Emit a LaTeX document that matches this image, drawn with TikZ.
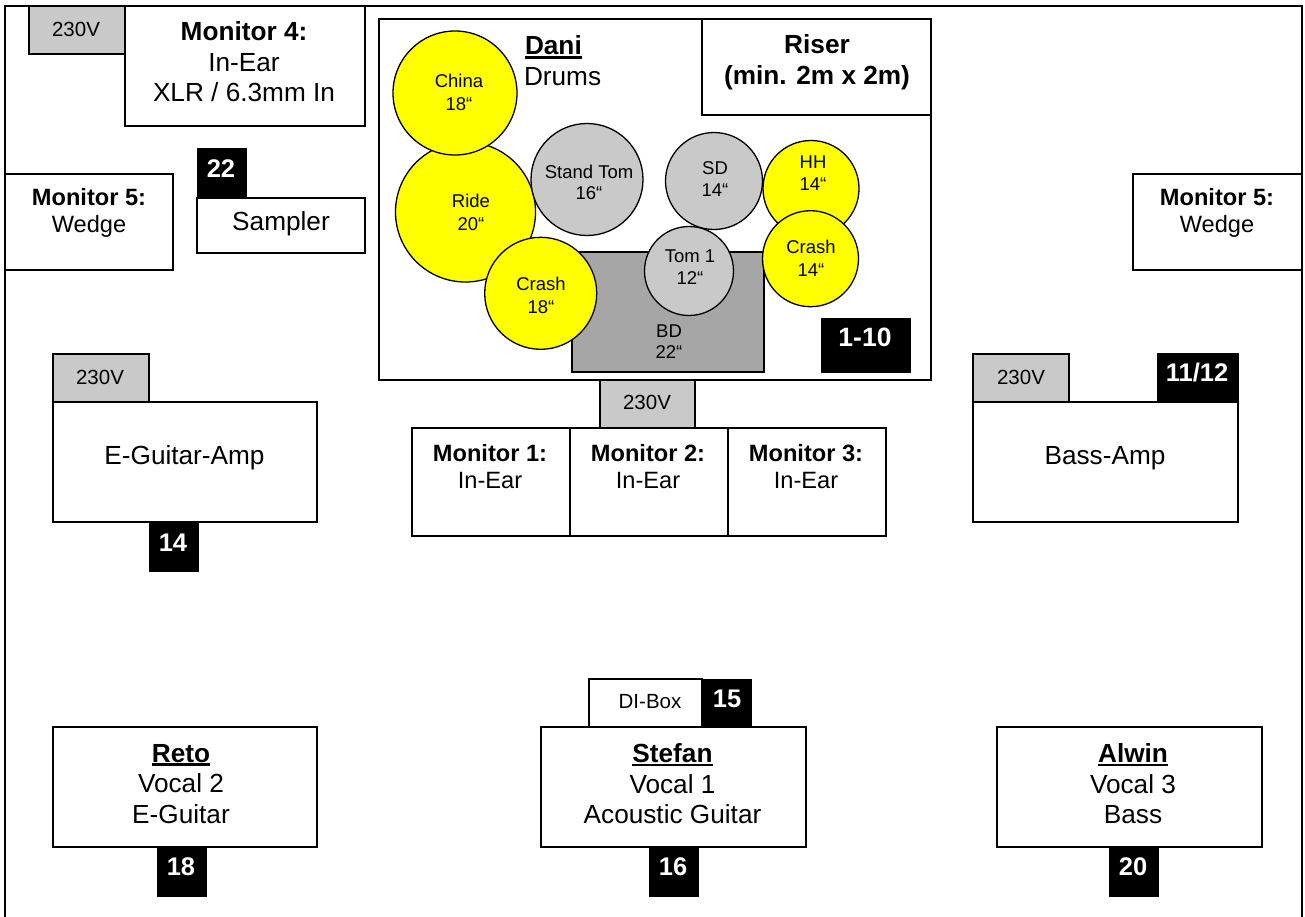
\documentclass[tikz,border=0pt]{standalone}
\usepackage{fontspec}
\setmainfont{Liberation Sans}
\tikzset{
  x=1pt,y=-1pt,
  bxs/.style={draw=black,line width=1.3pt,fill=white,inner sep=0pt,outer sep=0pt},
  greybox/.style={bxs,fill=boxgrey},
  blackbox/.style={draw=black,fill=black,line width=0.6pt,inner sep=0pt,outer sep=0pt},
  drumc/.style={circle,draw=black,line width=1.3pt,fill=cymbal,inner sep=0pt,outer sep=0pt},
  drumg/.style={drumc,fill=boxgrey},
  txt/.style={align=center,inner sep=0pt,outer sep=0pt},
}
\definecolor{boxgrey}{HTML}{C9C9C9}
\definecolor{cymbal}{HTML}{FFFF00}
\definecolor{bdgrey}{HTML}{A6A6A6}
% box by corners: style, name, x1,y1,x2,y2, text
\newcommand{\bx}[7][bxs]{%
  \pgfmathsetmacro{\bw}{#5-#3}\pgfmathsetmacro{\bh}{#6-#4}%
  \pgfmathsetmacro{\bcx}{(#3+#5)/2}\pgfmathsetmacro{\bcy}{(#4+#6)/2}%
  \node[#1,minimum width=\bw pt,minimum height=\bh pt,rectangle] (#2) at (\bcx,\bcy) {#7};}
% text: name, x, y, size, leading, text
\newcommand{\tx}[6]{\node[txt,font=\fontsize{#4}{#5}\selectfont] (#1) at (#2,#3) {#6};}
\newcommand{\hd}[1]{\textbf{#1}}
\newcommand{\ulh}[1]{\setbox0=\hbox{\textbf{#1}}\rlap{\textbf{#1}}\rule[-3.6pt]{\wd0}{2.6pt}}
\begin{document}
\begin{tikzpicture}
\useasboundingbox (0,0) rectangle (1305,916);
\fill[white] (0,0) rectangle (1305,916);
\bx{stage}{5}{6}{1302}{930}{}
% top left
\bx[greybox]{pwrA}{29}{6}{125}{54}{}
\tx{pwrAt}{76}{29}{20.5}{24}{230V}
\bx{monFour}{125}{6}{365}{126}{}
\tx{monFourt}{244}{62}{26.2}{30.5}{\hd{Monitor 4:}\\In-Ear\\XLR / 6.3mm In}
\bx[blackbox]{chTT}{197}{148}{246}{198}{}
\tx{chTTt}{221}{169}{25.5}{28}{\color{white}\hd{22}}
\bx{sampler}{197}{198}{365}{253}{}
\tx{samplert}{281}{224}{26.2}{30}{Sampler}
\bx{monFiveL}{5}{174}{173}{270}{}
\tx{monFiveLt}{89}{213}{23.6}{27.5}{\hd{Monitor 5:}\\Wedge}
\bx{monFiveR}{1133}{174}{1302}{270}{}
\tx{monFiveRt}{1217}{213}{23.6}{27.5}{\hd{Monitor 5:}\\Wedge}
% riser
\bx{riser}{379}{19}{931}{380}{}
\bx{riserLbl}{702}{19}{931}{115}{}
\tx{riserLblt}{817}{62}{26.2}{31}{\hd{Riser}\\\hd{(min. 2m x 2m)}}
\node[txt,anchor=north west,align=left,font=\fontsize{26.2}{30.5}\selectfont] (dani) at (524,36) {\hspace*{1pt}\ulh{Dani}\\Drums};
% drums
\node[drumc,minimum size=140pt] (ride) at (465.5,212) {};
\node[drumc,minimum size=124pt] (china) at (455,93) {};
\node[drumg,minimum size=112pt] (standtom) at (587,179.5) {};
\node[drumg,minimum size=97pt] (sd) at (714,181) {};
\node[drumc,minimum size=96pt] (hh) at (811,188.5) {};
\bx[greybox,fill=bdgrey]{bd}{572}{252}{764}{372}{}
\node[drumc,minimum size=112pt] (crashL) at (540.7,293.3) {};
\node[drumg,minimum size=89pt] (tomOne) at (689,271) {};
\node[drumc,minimum size=96pt] (crashR) at (810.5,258.7) {};
\tx{chinat}{459}{92}{18.5}{23}{China\\18“}
\tx{ridet}{471}{212.5}{18.5}{23}{Ride\\20“}
\tx{standtomt}{589}{182}{18.5}{21}{Stand Tom\\16“}
\tx{sdt}{715}{179}{18.5}{22}{SD\\14“}
\tx{hht}{813}{173.5}{18.5}{22}{HH\\14“}
\tx{crashRt}{811}{258.5}{18.5}{22.5}{Crash\\14“}
\tx{crashLt}{541}{295}{18.5}{23}{Crash\\18“}
\tx{tomOnet}{690}{267}{18.5}{22}{Tom 1\\12“}
\tx{bdt}{669}{342}{18.5}{21}{BD\\22“}
\bx[blackbox]{chTen}{821}{318}{910}{372}{}
\tx{chTent}{865}{337}{26.5}{28}{\color{white}\hd{1-10}}
% monitors under riser
\bx[greybox]{pwrB}{600}{380}{695}{428}{}
\tx{pwrBt}{647}{402}{20.5}{24}{230V}
\bx{monOne}{412}{428}{570}{536}{}
\tx{monOnet}{490}{466.5}{23.6}{27}{\hd{Monitor 1:}\\In-Ear}
\bx{monTwo}{570}{428}{728}{536}{}
\tx{monTwot}{648}{466.5}{23.6}{27}{\hd{Monitor 2:}\\In-Ear}
\bx{monThree}{728}{428}{886}{536}{}
\tx{monThreet}{806}{466.5}{23.6}{27}{\hd{Monitor 3:}\\In-Ear}
% amps
\bx[greybox]{pwrC}{53}{354}{149}{402}{}
\tx{pwrCt}{100}{377}{20.5}{24}{230V}
\bx{guitarAmp}{53}{402}{317}{522}{}
\tx{guitarAmpt}{184.5}{458}{26.2}{30}{E-Guitar-Amp}
\bx[blackbox]{chFT}{149}{522}{198}{571}{}
\tx{chFTt}{173}{543}{25.5}{28}{\color{white}\hd{14}}
\bx[greybox]{pwrD}{973}{354}{1069}{402}{}
\tx{pwrDt}{1021}{377}{20.5}{24}{230V}
\bx{bassAmp}{973}{402}{1238}{522}{}
\tx{bassAmpt}{1105}{458}{26.2}{30}{Bass-Amp}
\bx[blackbox]{chEl}{1157}{353}{1238}{402}{}
\tx{chElt}{1197}{373}{25.5}{28}{\color{white}\hd{11/12}}
% players
\bx{reto}{53}{727}{317}{847}{}
\tx{retot}{181}{784}{26.2}{30.5}{\ulh{Reto}\\Vocal 2\\E-Guitar}
\bx[blackbox]{chEi}{157}{847}{206}{896}{}
\tx{chEit}{181}{867}{25.5}{28}{\color{white}\hd{18}}
\bx{stefan}{541}{727}{806}{847}{}
\tx{stefant}{672.5}{784}{26.2}{30.5}{\ulh{Stefan}\\Vocal 1\\Acoustic Guitar}
\bx[blackbox]{chSi}{649}{847}{698}{896}{}
\tx{chSit}{673}{867}{25.5}{28}{\color{white}\hd{16}}
\bx{dibox}{589}{679}{702}{727}{}
\tx{diboxt}{650}{701.5}{20.5}{24}{DI-Box}
\bx[blackbox]{chFi}{702}{679}{751}{727}{}
\tx{chFit}{727}{698.5}{25.5}{28}{\color{white}\hd{15}}
\bx{alwin}{997}{727}{1262}{847}{}
\tx{alwint}{1133}{784}{26.2}{30.5}{\ulh{Alwin}\\Vocal 3\\Bass}
\bx[blackbox]{chTw}{1109}{847}{1158}{896}{}
\tx{chTwt}{1133}{867}{25.5}{28}{\color{white}\hd{20}}
\end{tikzpicture}
\end{document}
